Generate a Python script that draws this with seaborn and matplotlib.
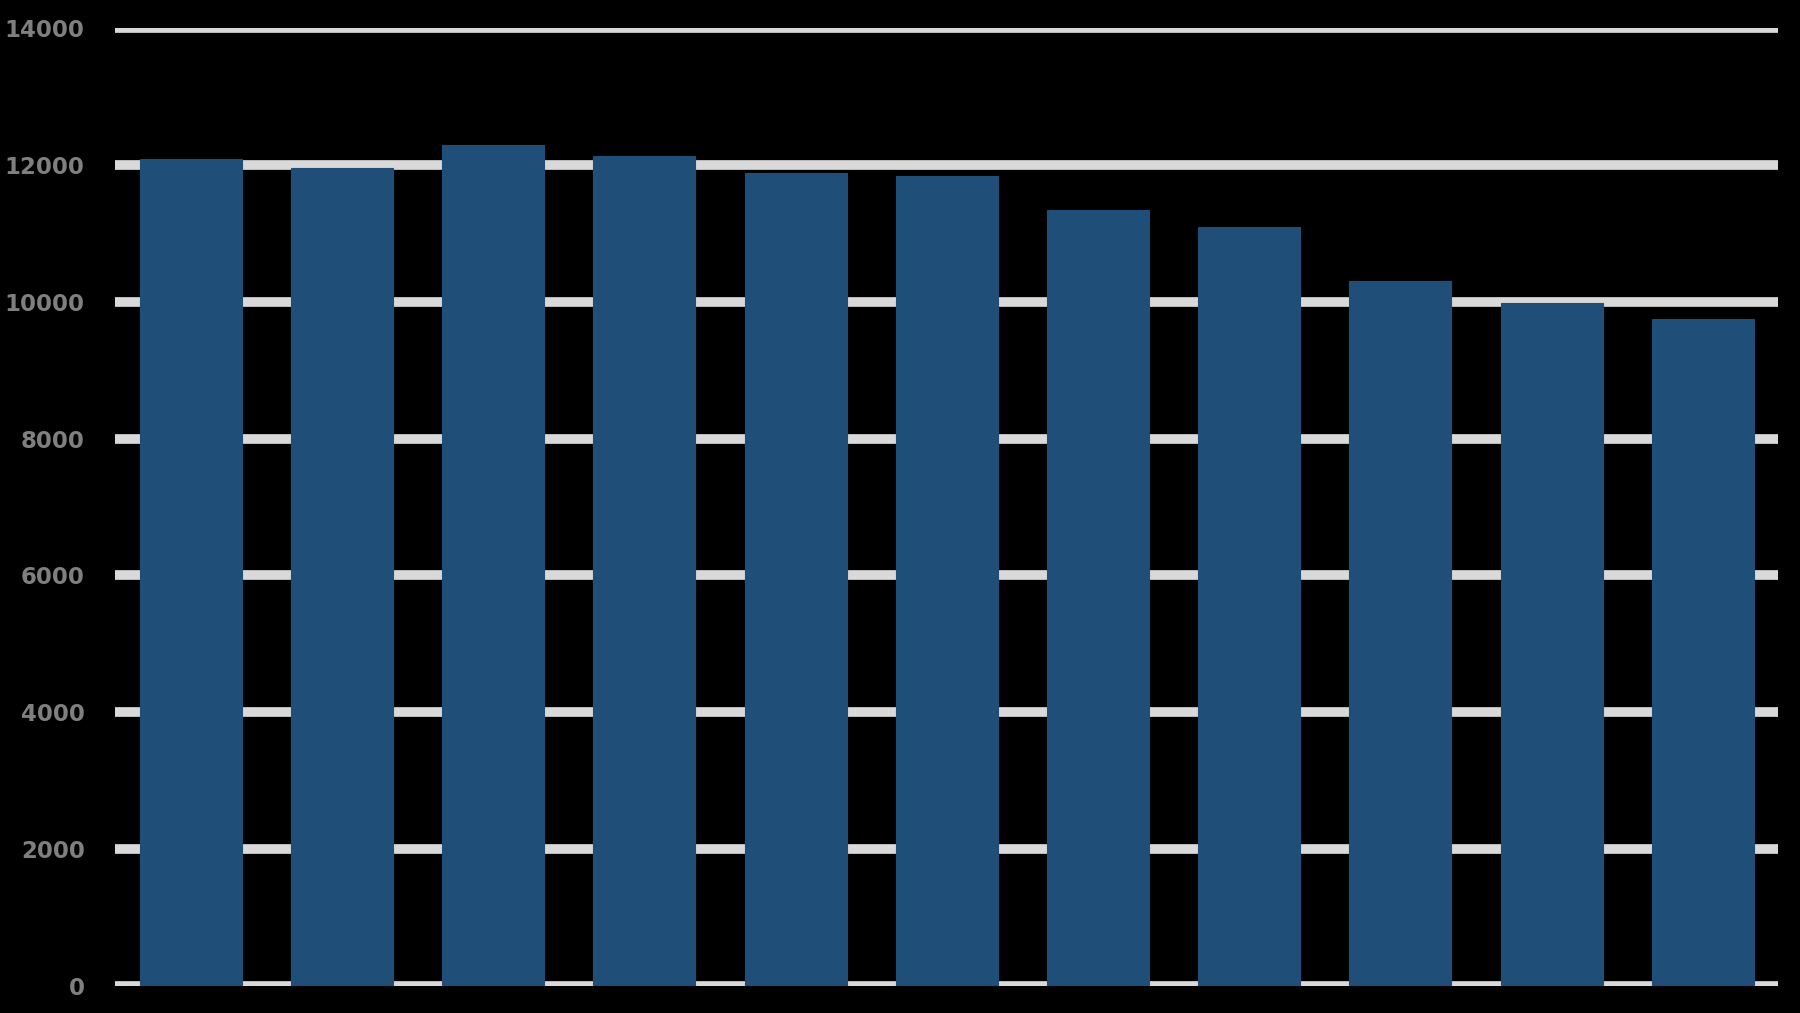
import matplotlib
matplotlib.use("Agg")
import matplotlib.pyplot as plt
import seaborn as sns
import pandas as pd

# values (11 unlabeled bars)
categories = ["1", "2", "3", "4", "5", "6", "7", "8", "9", "10", "11"]
values = [12090, 11960, 12300, 12140, 11890, 11840, 11350, 11100, 10300, 9980, 9750]
y_ticks = [0, 2000, 4000, 6000, 8000, 10000, 12000, 14000]

df = pd.DataFrame({"cat": categories, "val": values})

sns.set_style("dark")
fig = plt.figure(figsize=(18, 10.13), dpi=100, facecolor="black")
ax = fig.add_axes([0.064, 0.027, 0.924, 0.945])
ax.set_facecolor("black")

sns.barplot(data=df, x="cat", y="val", color="#1F4E79", saturation=1,
            width=0.675, edgecolor="#1F4E79", linewidth=0.8, ax=ax, zorder=3)

ax.set_ylim(0, 14000)
ax.set_xlim(-0.5, len(categories) - 0.5)
ax.set_yticks(y_ticks)
ax.set_yticklabels([str(t) for t in y_ticks], fontsize=16.5, fontweight="bold",
                   color="#7F7F7F")
ax.set_xticks([])
ax.set_xlabel("")
ax.set_ylabel("")
ax.tick_params(axis="y", length=0, pad=22)

ax.grid(False)
for t in y_ticks:
    ax.axhline(t, color="#D9D9D9", linewidth=7, solid_capstyle="round", zorder=1)

for s in ax.spines.values():
    s.set_visible(False)

plt.savefig("out.png", dpi=100, facecolor="black")
